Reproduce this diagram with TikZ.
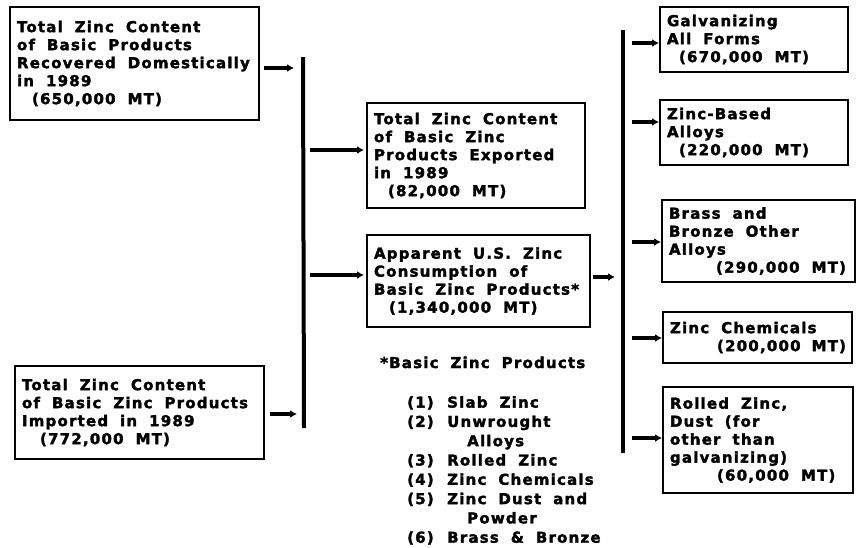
\documentclass[tikz,border=0pt]{standalone}
\usepackage{fontspec}
\setmainfont[LetterSpace=8,BoldFeatures={FakeBold=2}]{DejaVu Sans}
\usetikzlibrary{arrows.meta,calc}
\newcommand{\zfont}[1]{\fontsize{15}{#1}\selectfont\bfseries}
\newcommand{\zspace}{\spaceskip=12pt plus 2pt minus 1pt\relax}
\begin{document}
\begin{tikzpicture}[x=1pt,y=-1pt,
  txt/.style={font=\zfont{18},execute at begin node=\zspace},
  box/.style={txt,draw,rectangle,line width=2pt,align=left,inner xsep=7pt,inner ysep=0pt},
  arr/.style={line width=3.2pt,-{Latex[length=7pt,width=8pt]}},
  bar/.style={line width=4pt}]
\useasboundingbox (0,0) rectangle (856,547);

% left column
\node[box,text width=235pt,minimum height=113pt] (dom) at (134.5,63.5)
  {Total Zinc Content\\of Basic Products\\Recovered Domestically\\in 1989\\\hspace*{15pt}(650,000 MT)};
\node[box,text width=235pt,minimum height=93pt] (imp) at (139.5,412.5)
  {Total Zinc Content\\of Basic Zinc Products\\Imported in 1989\\\hspace*{18pt}(772,000 MT)};

% middle column
\node[box,text width=204pt,minimum height=105pt] (exp) at (476,155.5)
  {Total Zinc Content\\of Basic Zinc\\Products Exported\\in 1989\\\hspace*{14pt}(82,000 MT)};
\node[box,text width=209pt,minimum height=92pt] (app) at (478.5,281)
  {Apparent U.S. Zinc\\Consumption of\\Basic Zinc Products*\\\hspace*{15pt}(1,340,000 MT)};

% right column
\node[box,text width=174pt,minimum height=65pt] (galv) at (754,39.5)
  {Galvanizing\\All Forms\\\hspace*{12pt}(670,000 MT)};
\node[box,text width=174pt,minimum height=65pt] (zba) at (754,132.5)
  {Zinc-Based\\Alloys\\\hspace*{12pt}(220,000 MT)};
\node[box,text width=179pt,minimum height=82pt] (brass) at (758.5,241)
  {Brass and\\Bronze Other\\Alloys\\\hspace*{47pt}(290,000 MT)};
\node[box,text width=175pt,minimum height=51pt] (chem) at (757.5,337.5)
  {Zinc Chemicals\\\hspace*{47pt}(200,000 MT)};
\node[box,text width=176pt,minimum height=106pt] (rolled) at (758,440)
  {Rolled Zinc,\\Dust (for\\other than\\galvanizing)\\\hspace*{47pt}(60,000 MT)};

% bars
\coordinate (lt) at (303,57);
\coordinate (lb) at (304,428);
\coordinate (rt) at (623,30);
\coordinate (rb) at (623,453);
\draw[bar] (lt) -- (lb);
\draw[bar] (rt) -- (rb);

% arrows
\draw[arr] ($(dom.east)+(4,4.5)$) -- ($(dom.east -| lt)+(-9,4.5)$);
\draw[arr] ($(imp.east)+(5,1.5)$) -- ($(imp.east -| lt)+(-6,1.5)$);
\draw[arr] ($(exp.west -| lt)+(7,-5.5)$) -- ($(exp.west)+(-2,-5.5)$);
\draw[arr] ($(app.west -| lt)+(7,-6)$) -- ($(app.west)+(-2,-6)$);
\draw[arr] ($(app.east)+(2,-4)$) -- ($(app.east -| rt)+(-8,-4)$);
\draw[arr] ($(galv.west -| rt)+(9,3.5)$) -- ($(galv.west)+(0,3.5)$);
\draw[arr] ($(zba.west -| rt)+(9,-10.5)$) -- ($(zba.west)+(0,-10.5)$);
\draw[arr] ($(brass.west -| rt)+(9,1)$) -- ($(brass.west)+(0,1)$);
\draw[arr] ($(chem.west -| rt)+(9,0.5)$) -- ($(chem.west)+(0,0.5)$);
\draw[arr] ($(rolled.west -| rt)+(9,-2)$) -- ($(rolled.west)+(0,-2)$);

% footnote
\node[txt,anchor=base west,inner sep=0pt] (fnh) at (380,368) {*Basic Zinc Products};
\node[anchor=north west,align=left,inner sep=0pt,font=\zfont{19.3},execute at begin node=\zspace] (fnl) at (407,396)
  {\makebox[40pt][l]{(1)}Slab Zinc\\
   \makebox[40pt][l]{(2)}Unwrought\\
   \hspace*{60pt}Alloys\\
   \makebox[40pt][l]{(3)}Rolled Zinc\\
   \makebox[40pt][l]{(4)}Zinc Chemicals\\
   \makebox[40pt][l]{(5)}Zinc Dust and\\
   \hspace*{60pt}Powder\\
   \makebox[40pt][l]{(6)}Brass \& Bronze};
\end{tikzpicture}
\end{document}
